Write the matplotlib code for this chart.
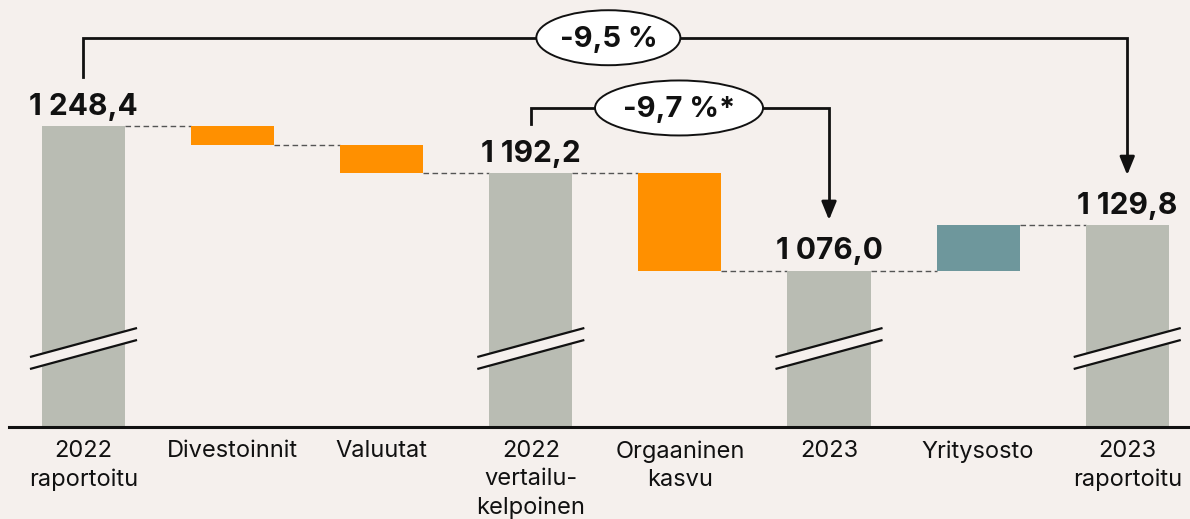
import matplotlib
matplotlib.use("Agg")
import matplotlib.pyplot as plt
from matplotlib.patches import Ellipse, Polygon
import numpy as np

plt.rcParams['font.family'] = ['Inter', 'DejaVu Sans']

# ---- data ----
categories = ["2022\nraportoitu", "Divestoinnit", "Valuutat", "2022\nvertailu-\nkelpoinen",
              "Orgaaninen\nkasvu", "2023", "Yritysosto", "2023\nraportoitu"]
kinds = ["total", "delta", "delta", "total", "delta", "total", "delta", "total"]
values = [1248.4, -22.7, -33.5, 1192.2, -116.2, 1076.0, 53.8, 1129.8]
value_labels = ["1 248,4", "", "", "1 192,2", "", "1 076,0", "", "1 129,8"]
change_labels = ["-9,5 %", "-9,7 %*"]
change_from_to = [(0, 7), (3, 5)]

BG = "#f5f0ed"
GREY = "#b9bcb3"
ORANGE = "#ff9000"
TEAL = "#6e979c"

YMIN, YMAX = 889.3, 1398.7

fig = plt.figure(figsize=(11.9, 5.19), dpi=100, facecolor=BG)
ax = fig.add_axes([0, 92/519, 1, 427/519])
ax.set_facecolor(BG)
ax.set_xlim(-0.56, 7.421)
ax.set_ylim(YMIN, YMAX)

x = np.arange(len(categories))
w = 0.557

# compute bottoms/tops
bottoms, tops, colors = [], [], []
running = None
for k, v in zip(kinds, values):
    if k == "total":
        running = v
        bottoms.append(YMIN)
        tops.append(v)
        colors.append(GREY)
    else:
        new = running + v
        bottoms.append(min(running, new))
        tops.append(max(running, new))
        colors.append(ORANGE if v < 0 else TEAL)
        running = new

heights = [t - b for t, b in zip(tops, bottoms)]
ax.bar(x, heights, bottom=bottoms, width=w, color=colors, zorder=2, linewidth=0)

# connectors
levels_after = []
running = None
for k, v in zip(kinds, values):
    running = v if k == "total" else running + v
    levels_after.append(running)
for i in range(len(x) - 1):
    lv = levels_after[i]
    ax.plot([x[i] + w/2, x[i+1] - w/2], [lv, lv], color="#555555", lw=1.0,
            ls=(0, (4, 2.5)), zorder=1)

# break marks on total bars
dx = 0.359
dy = 34.6 / 2
gap = 14.3
for i, k in enumerate(kinds):
    if k != "total":
        continue
    yc1 = 990.1
    yc2 = yc1 - gap
    poly = Polygon([[x[i]-dx, yc1-dy], [x[i]+dx, yc1+dy], [x[i]+dx, yc2+dy], [x[i]-dx, yc2-dy]],
                   closed=True, facecolor=BG, edgecolor="none", zorder=3)
    ax.add_patch(poly)
    ax.plot([x[i]-dx, x[i]+dx], [yc1-dy, yc1+dy], color="#111111", lw=1.6, zorder=4,
            solid_capstyle="butt")
    ax.plot([x[i]-dx, x[i]+dx], [yc2-dy, yc2+dy], color="#111111", lw=1.6, zorder=4,
            solid_capstyle="butt")

# value labels
for i, lab in enumerate(value_labels):
    if lab:
        ax.annotate(lab, (x[i], tops[i]), xytext=(0, 8), textcoords="offset points",
                    ha="center", va="baseline", fontsize=21.5, fontweight="bold",
                    color="#111111", zorder=5)

# baseline
ax.axhline(YMIN, xmin=9/1190, xmax=1, color="#111111", lw=2.2, zorder=5, clip_on=False)

# brackets with ellipses
bracket_y = [1353.7, 1269.9]
left_bottom = [1306.9, 1250.8]
arrow_tip = [1189.9, 1136.3]
ell_cx = [3.52, 3.994]
ell_w = [0.966, 1.127]
ell_h = 65.6
for j, (a, b) in enumerate(change_from_to):
    yb = bracket_y[j]
    ax.plot([x[a], x[a], x[b], x[b]], [left_bottom[j], yb, yb, arrow_tip[j] + 18],
            color="#111111", lw=2.0, zorder=5, solid_joinstyle="miter")
    ax.annotate("", xy=(x[b], arrow_tip[j]), xytext=(x[b], arrow_tip[j] + 19),
                arrowprops=dict(arrowstyle="-|>,head_length=1.1,head_width=0.45",
                                color="#111111", lw=2.0, shrinkA=0, shrinkB=0),
                zorder=6)
    e = Ellipse((ell_cx[j], yb), ell_w[j], ell_h, facecolor="white", edgecolor="#111111",
                lw=1.4, zorder=6)
    ax.add_patch(e)
    ax.text(ell_cx[j], yb - 2, change_labels[j], ha="center", va="center", fontsize=21,
            fontweight="bold", color="#111111", zorder=7)

# x labels
ax.set_xticks(x)
ax.set_xticklabels(categories, fontsize=17, color="#111111", linespacing=1.36)
ax.tick_params(axis="x", length=0, pad=9.5)
ax.set_yticks([])
for s in ax.spines.values():
    s.set_visible(False)

fig.savefig("out.png", dpi=100, facecolor=BG)
